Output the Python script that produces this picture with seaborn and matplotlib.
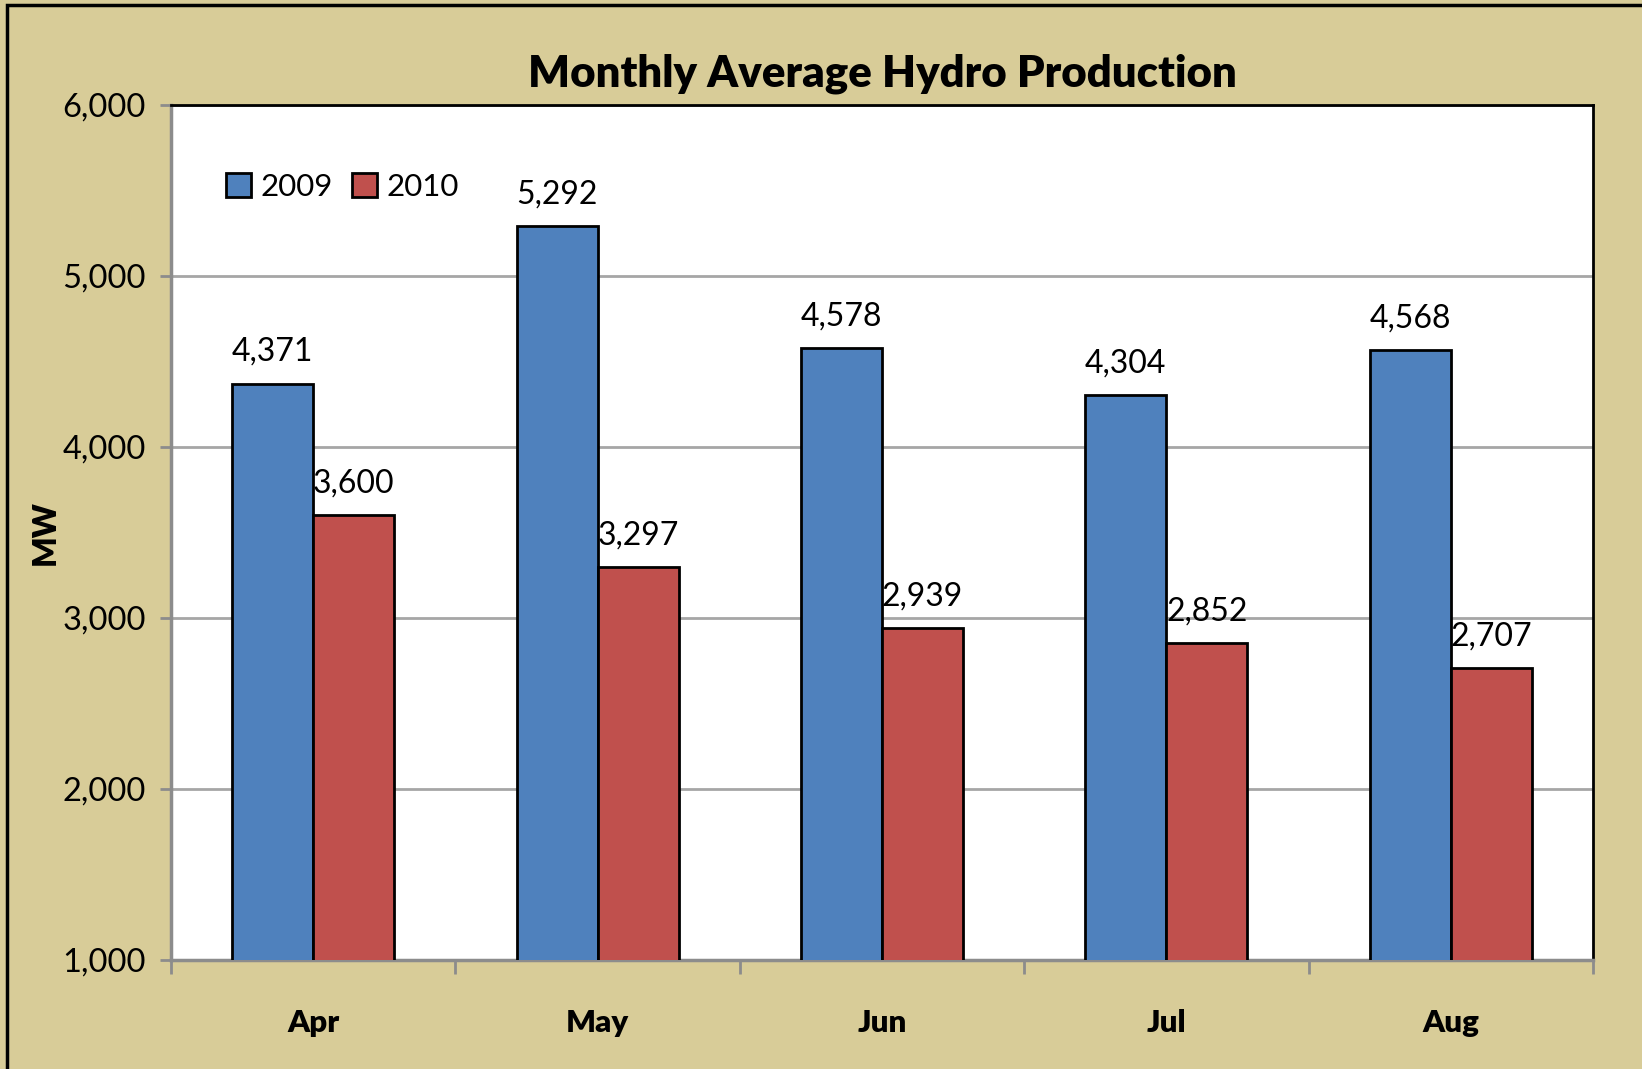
import matplotlib
matplotlib.use("Agg")
import matplotlib.pyplot as plt
import seaborn as sns
import pandas as pd
from matplotlib.patches import Rectangle

months = ["Apr", "May", "Jun", "Jul", "Aug"]
series_names = ["2009", "2010"]
values_2009 = [4371, 5292, 4578, 4304, 4568]
values_2010 = [3600, 3297, 2939, 2852, 2707]
y_ticks = [1000, 2000, 3000, 4000, 5000, 6000]

df = pd.DataFrame({
    "Month": months * 2,
    "Year": [series_names[0]] * len(months) + [series_names[1]] * len(months),
    "MW": values_2009 + values_2010,
})

sns.set_theme(style="white")
plt.rcParams["font.family"] = ["Lato", "DejaVu Sans"]
plt.rcParams["text.color"] = "black"
plt.rcParams["axes.labelcolor"] = "black"
plt.rcParams["xtick.color"] = "black"
plt.rcParams["ytick.color"] = "black"

bg = "#D8CC98"
fig = plt.figure(figsize=(16.42, 10.69), dpi=100, facecolor=bg)
ax = fig.add_axes([171/1642, 1-960/1069, (1593-171)/1642, (960-105)/1069])
ax.set_facecolor("white")

palette = {"2009": "#4F81BD", "2010": "#C0504D"}
sns.barplot(data=df, x="Month", y="MW", hue="Year", palette=palette, ax=ax,
            width=0.57, edgecolor="black", linewidth=2, saturation=1, errorbar=None,
            zorder=3)

ax.set_ylim(1000, 6000)
ax.set_xlim(-0.5, len(months) - 0.5)
ax.set_yticks(y_ticks)
ax.set_yticklabels([f"{v:,}" for v in y_ticks], fontsize=23.5, color="black")
ax.yaxis.grid(True, color="#A6A6A6", linewidth=2, zorder=0)
ax.set_axisbelow(True)

for cont in ax.containers:
    ax.bar_label(cont, labels=[f"{v:,.0f}" for v in cont.datavalues], padding=12, fontsize=23, color="black")

ax.set_xlabel("")
ax.set_ylabel("MW", fontsize=23, fontweight="heavy", labelpad=2, color="black")
ax.set_xticks(range(len(months)))
ax.set_xticklabels(months, fontsize=22.5, fontweight="heavy", color="black")
ax.tick_params(axis="x", length=0, pad=35)
ax.tick_params(axis="y", length=8, width=2, color="#8C8C8C", labelcolor="black", pad=10, direction="out", left=True)

ax.set_xticks([i - 0.5 for i in range(len(months) + 1)], minor=True)
ax.tick_params(axis="x", which="minor", length=10, width=2, color="#8C8C8C", bottom=True)

for s in ["top", "right"]:
    ax.spines[s].set_color("black")
    ax.spines[s].set_linewidth(2)
for s in ["left", "bottom"]:
    ax.spines[s].set_color("#8C8C8C")
    ax.spines[s].set_linewidth(2.5)

ax.set_title("Monthly Average Hydro Production", fontsize=31.5, fontweight="heavy", pad=13, color="black")

leg = ax.legend(loc="upper left", bbox_to_anchor=(0.03, 0.935), ncol=2, frameon=False,
                fontsize=22.5, handlelength=0.8, handleheight=0.8, handletextpad=0.3,
                columnspacing=0.6, borderaxespad=0)
for h in leg.legend_handles:
    h.set_edgecolor("black")
    h.set_linewidth(2)
for t in leg.get_texts():
    t.set_color("black")

fig.patches.append(Rectangle((7/1642, -0.05), 1.1, 1 - 5/1069 + 0.05, transform=fig.transFigure,
                             fill=False, edgecolor="black", linewidth=2.5))

fig.savefig("out.png", dpi=100, facecolor=bg)
